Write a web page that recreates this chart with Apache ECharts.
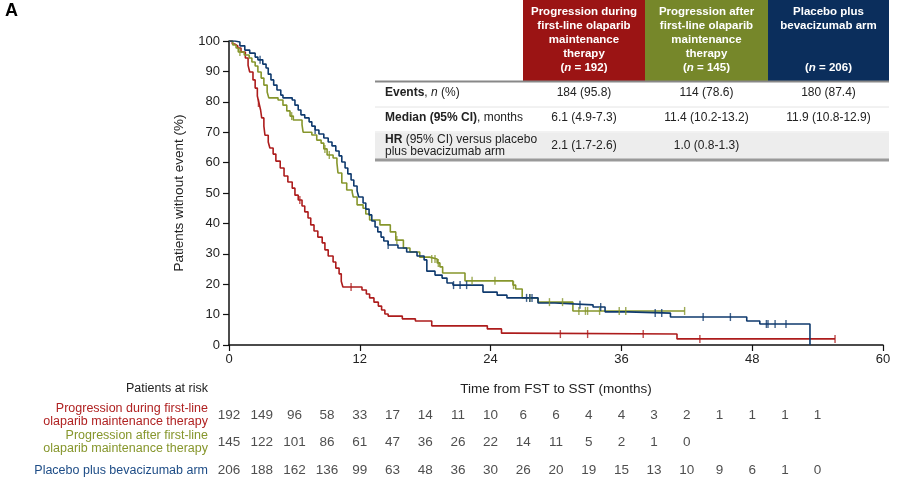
<!DOCTYPE html>
<html>
<head>
<meta charset="utf-8">
<script src="https://cdn.jsdelivr.net/npm/echarts@6/dist/echarts.min.js"></script>
<style>
  html, body { margin: 0; padding: 0; background: #fff; }
  #km { width: 906px; height: 486px; }
</style>
</head>
<body>
<div id="km"></div>
<script>
// Kaplan-Meier steps: [month, % without event]
var redKM = [[0,100],[0.3,99],[0.55,98.4],[0.8,97.7],[1.1,96.4],[1.5,94.4],[1.75,92],[1.9,89.8],[2.2,87.2],[2.4,84.5],[2.6,81.9],[2.75,79.6],[2.9,77.3],[3.0,74.7],[3.2,72],[3.3,69],[3.6,66.8],[3.75,64.8],[4.05,62.8],[4.3,60.5],[4.7,58.2],[5.05,55.6],[5.4,53.6],[5.8,51.6],[6.05,49.3],[6.35,47.7],[6.7,45.7],[6.95,43.8],[7.25,41.8],[7.5,39.5],[7.8,37.5],[8.15,35.5],[8.55,33.6],[8.8,31.3],[9.1,29.3],[9.55,27.3],[9.8,25.3],[10.1,23.4],[10.3,21],[10.45,19.1],[12.2,18.1],[12.6,16.8],[12.9,15.5],[13.3,14.1],[13.7,12.8],[14.0,11.5],[14.3,10.2],[14.6,9.5],[15.9,8.6],[17.1,7.9],[18.6,6.3],[23.7,5.3],[25.0,3.9],[25.8,3.6],[41.1,2.0],[55.6,2.0]];
var redCens = [[2.7,79.6],[6.5,47.7],[11.2,19.1],[30.4,3.6],[32.9,3.6],[38.0,3.6],[43.2,2.0],[55.6,2.0]];

var greenKM = [[0,100],[0.35,98.7],[0.65,97.7],[0.85,96.4],[1.4,95.4],[1.85,94.4],[2.1,93.1],[2.4,91.8],[2.65,89.8],[2.95,87.8],[3.2,85.5],[3.5,83.2],[3.65,81.3],[4.5,80.6],[4.95,78.9],[5.3,77],[5.6,75.3],[5.9,74],[6.7,72.4],[6.8,70],[7.6,69.1],[8.05,67.4],[8.45,66.4],[8.7,64.5],[9.0,62.5],[9.55,61.5],[9.9,59.9],[10.0,56.6],[10.35,53.3],[10.8,51],[11.3,50.3],[11.4,48.7],[11.75,46.1],[12.3,45],[12.55,43.1],[12.9,41.1],[13.85,39.5],[14.8,37.2],[15.3,34.5],[16.0,31.9],[16.6,30.6],[17.5,28.9],[18.4,28.3],[19.1,27],[19.35,25.7],[19.6,23.7],[21.65,21.1],[26.05,19.7],[26.3,18.4],[26.9,15.5],[28.35,14.1],[31.55,11.2],[41.8,11.2]];
var greenCens = [[1.0,96.4],[5.75,75.3],[8.8,64.5],[9.2,62.5],[15.4,34.5],[18.6,28.3],[18.9,28.3],[19.2,27],[22.3,21.1],[24.4,21.1],[26.1,19.7],[27.6,15.5],[29.4,14.1],[30.6,14.1],[32.1,11.2],[32.7,11.2],[32.9,11.2],[34.0,11.2],[35.8,11.2],[36.4,11.2],[41.8,11.2]];

var blueKM = [[0,100],[0.55,99.7],[1.0,98.4],[1.45,97],[1.9,96],[2.4,94.7],[2.65,93.8],[3.1,92.4],[3.4,91.1],[3.6,89.1],[3.85,87.2],[4.1,85.5],[4.4,83.9],[4.75,82.2],[4.95,81.3],[5.8,80.6],[6.05,78.9],[6.35,77.3],[6.6,75.7],[6.95,74.7],[7.35,73.4],[7.6,72],[7.9,70.7],[8.25,69.4],[8.7,68.1],[9.1,66.8],[9.45,65.5],[9.8,63.8],[10.1,62.2],[10.35,60.2],[10.65,58.2],[10.9,56.3],[11.2,54.3],[11.45,52.3],[11.75,50.7],[11.9,48.7],[12.3,46.7],[12.55,44.7],[12.85,42.8],[13.1,40.8],[13.4,38.8],[13.65,37.2],[13.95,35.5],[14.2,34.2],[14.6,32.9],[15.5,31.9],[16.3,30.6],[17.25,29.3],[17.9,28],[18.15,24.3],[18.9,23],[19.55,22],[20.0,20.4],[20.55,19.7],[23.3,17.4],[24.6,16.4],[25.5,15.5],[28.35,13.8],[29.9,13.2],[33.4,12.5],[34.5,10.9],[36.6,10.5],[40.5,9.2],[47.5,7.9],[48.7,6.9],[53.3,0]];
var blueCens = [[2.85,93.8],[7.9,70.7],[14.6,32.9],[20.6,19.7],[21.2,19.7],[21.8,19.7],[27.3,15.5],[27.6,15.5],[27.8,15.5],[32.2,13.2],[34.1,12.5],[39.1,10.5],[39.7,10.5],[43.5,9.2],[46.0,9.2],[49.3,6.9],[49.45,6.9],[50.1,6.9],[51.1,6.9]];

// patients at risk every 3 months
var riskTimes = [0,3,6,9,12,15,18,21,24,27,30,33,36,39,42,45,48,51,54];
var redRisk = [192,149,96,58,33,17,14,11,10,6,6,4,4,3,2,1,1,1,1];
var greenRisk = [145,122,101,86,61,47,36,26,22,14,11,5,2,1,0];
var blueRisk = [206,188,162,136,99,63,48,36,30,26,20,19,15,13,10,9,6,1,0];
var riskLabels = ['Progression during first-line\nolaparib maintenance therapy',
                  'Progression after first-line\nolaparib maintenance therapy',
                  'Placebo plus bevacizumab arm'];

// summary table
var headLines = [
    ['Progression during', 'first-line olaparib', 'maintenance', 'therapy'],
    ['Progression after', 'first-line olaparib', 'maintenance', 'therapy'],
    ['Placebo plus', 'bevacizumab arm']
];
var headN = ['192', '145', '206'];
var eventsCol = ['184 (95.8)', '114 (78.6)', '180 (87.4)'];
var medianCol = ['6.1 (4.9-7.3)', '11.4 (10.2-13.2)', '11.9 (10.8-12.9)'];
var hrCol = ['2.1 (1.7-2.6)', '1.0 (0.8-1.3)', ''];

var cRed = '#ad1c1c', cGreen = '#86962c', cBlue = '#0f3a6e';
var headFill = ['#9b1414', '#76872a', '#0b2e5c'];
var labelColors = ['#b02222', '#86962c', '#1d4c86'];
var font = '"Liberation Sans", Arial, sans-serif';

var chart = echarts.init(document.getElementById('km'));

// table graphics
var g = [];
g.push({ type: 'text', left: 5, top: 2, style: { text: 'A', font: 'bold 18px ' + font, fill: '#000' } });
var colX = [523, 645, 768, 889];
for (var i = 0; i < 3; i++) {
    g.push({ type: 'rect', shape: { x: colX[i], y: 0, width: colX[i + 1] - colX[i], height: 81 }, style: { fill: headFill[i] } });
    var cx = (colX[i] + colX[i + 1]) / 2;
    headLines[i].forEach(function (ln, k) {
        g.push({ type: 'text', x: cx, y: 12 + k * 14, style: { text: ln, fill: '#fff', font: 'bold 11.5px ' + font, align: 'center', verticalAlign: 'middle' } });
    });
    g.push({ type: 'text', x: cx, y: 68, style: {
        text: '({i|n} = ' + headN[i] + ')', fill: '#fff', font: 'bold 11.5px ' + font, align: 'center', verticalAlign: 'middle',
        rich: { i: { fontStyle: 'italic', fontWeight: 'bold', fontSize: 11.5, fontFamily: font, fill: '#fff' } } } });
    g.push({ type: 'text', x: cx, y: 93, style: { text: eventsCol[i], fill: '#222', font: '12px ' + font, align: 'center', verticalAlign: 'middle' } });
    g.push({ type: 'text', x: cx, y: 118, style: { text: medianCol[i], fill: '#222', font: '12px ' + font, align: 'center', verticalAlign: 'middle' } });
}
g.push({ type: 'rect', z: -1, shape: { x: 375, y: 133, width: 514, height: 26 }, style: { fill: '#ededed' } });
g.push({ type: 'line', shape: { x1: 375, y1: 81.5, x2: 889, y2: 81.5 }, style: { stroke: '#888', lineWidth: 2 } });
g.push({ type: 'line', shape: { x1: 375, y1: 107, x2: 889, y2: 107 }, style: { stroke: '#e4e4e4', lineWidth: 1 } });
g.push({ type: 'line', shape: { x1: 375, y1: 132, x2: 889, y2: 132 }, style: { stroke: '#e4e4e4', lineWidth: 1 } });
g.push({ type: 'line', shape: { x1: 375, y1: 160, x2: 889, y2: 160 }, style: { stroke: '#999', lineWidth: 3 } });
var rowRich = {
    b: { fontWeight: 'bold', fontSize: 12, fontFamily: font, fill: '#222' },
    i: { fontStyle: 'italic', fontSize: 12, fontFamily: font, fill: '#222' },
    r: { fontSize: 12, fontFamily: font, fill: '#222' }
};
g.push({ type: 'text', x: 385, y: 93, style: { text: '{b|Events}{r|, }{i|n}{r| (%)}', rich: rowRich, verticalAlign: 'middle' } });
g.push({ type: 'text', x: 385, y: 118, style: { text: '{b|Median (95% CI)}{r|, months}', rich: rowRich, verticalAlign: 'middle' } });
g.push({ type: 'text', x: 385, y: 140, style: { text: '{b|HR}{r| (95% CI) versus placebo}', rich: rowRich, verticalAlign: 'middle' } });
g.push({ type: 'text', x: 385, y: 152, style: { text: 'plus bevacizumab arm', font: '12px ' + font, fill: '#222', verticalAlign: 'middle' } });
for (var j = 0; j < 3; j++) {
    g.push({ type: 'text', x: (colX[j] + colX[j + 1]) / 2, y: 146, style: { text: hrCol[j], fill: '#222', font: '12px ' + font, align: 'center', verticalAlign: 'middle' } });
}
g.push({ type: 'text', x: 208, y: 389, style: { text: 'Patients at risk', fill: '#222', font: '12.5px ' + font, align: 'right', verticalAlign: 'middle' } });

function kmLine(name, data, color) {
    return { name: name, type: 'line', step: 'end', data: data, showSymbol: false, silent: true,
             lineStyle: { color: color, width: 1.6 }, z: 3 };
}
function censor(data, color) {
    return { type: 'scatter', data: data, symbol: 'rect', symbolSize: [1.4, 8], silent: true,
             itemStyle: { color: color }, z: 4 };
}
function riskRow(row, vals) {
    return { type: 'scatter', xAxisIndex: 1, yAxisIndex: 1, symbolSize: 0, silent: true,
             data: vals.map(function (v, k) { return [riskTimes[k], row, v]; }),
             label: { show: true, position: 'inside', formatter: function (p) { return p.data[2]; },
                      fontSize: 13.5, fontFamily: font, color: '#222' } };
}

var option = {
    animation: false,
    textStyle: { fontFamily: font },
    graphic: g,
    grid: [
        { left: 229, right: 23, top: 41, bottom: 141 },
        { left: 229, right: 23, top: 401, height: 83 }
    ],
    xAxis: [{
        type: 'value', min: 0, max: 60, interval: 12,
        name: 'Time from FST to SST (months)', nameLocation: 'middle', nameGap: 37,
        nameTextStyle: { fontSize: 13.5, color: '#222' },
        axisLine: { lineStyle: { color: '#111', width: 1.5 } },
        axisTick: { length: 6, lineStyle: { color: '#111', width: 1.2 } },
        axisLabel: { fontSize: 13, color: '#222', margin: 8 },
        splitLine: { show: false }
    }, {
        gridIndex: 1, type: 'value', min: 0, max: 60, show: false
    }],
    yAxis: [{
        type: 'value', min: 0, max: 100, interval: 10,
        name: 'Patients without event (%)', nameLocation: 'middle', nameGap: 43, nameRotate: 90,
        nameTextStyle: { fontSize: 13.5, color: '#222' },
        axisLine: { show: true, lineStyle: { color: '#111', width: 1.5 } },
        axisTick: { show: true, length: 6, lineStyle: { color: '#111', width: 1.2 } },
        axisLabel: { fontSize: 13, color: '#222', margin: 9 },
        splitLine: { show: false }
    }, {
        gridIndex: 1, type: 'category', data: riskLabels, inverse: true,
        axisLine: { show: false }, axisTick: { show: false },
        axisLabel: { fontSize: 12.5, lineHeight: 13, margin: 21, align: 'right',
                     color: function (v, idx) { return labelColors[idx]; } }
    }],
    series: [
        kmLine('Progression during', redKM, cRed),
        kmLine('Progression after', greenKM, cGreen),
        kmLine('Placebo plus bevacizumab', blueKM, cBlue),
        censor(redCens, cRed),
        censor(greenCens, cGreen),
        censor(blueCens, cBlue),
        riskRow(0, redRisk),
        riskRow(1, greenRisk),
        riskRow(2, blueRisk)
    ]
};
chart.setOption(option);
</script>
</body>
</html>
